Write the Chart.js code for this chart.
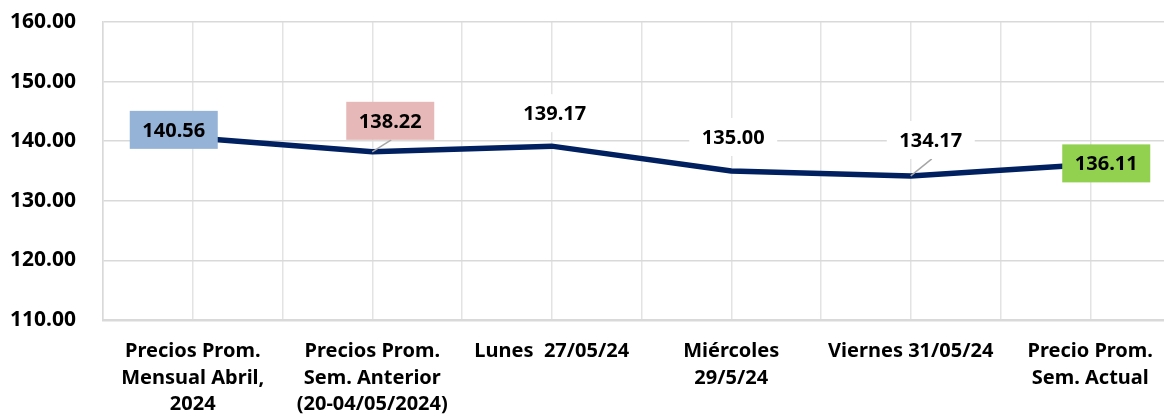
<!DOCTYPE html>
<html>
<head>
<meta charset="utf-8">
<script src="https://cdn.jsdelivr.net/npm/chart.js@4/dist/chart.umd.min.js"></script>
<style>
  html, body { margin: 0; padding: 0; background: #fff; overflow: hidden; }
  #wrap { width: 1164px; height: 420px; overflow: hidden; }
</style>
</head>
<body>
<div id="wrap"><canvas id="precioChart" width="1198" height="420"></canvas></div>
<script>
const categories = [
  ['Precios Prom.', 'Mensual Abril,', '2024'],
  ['Precios Prom.', 'Sem. Anterior', '(20-04/05/2024)'],
  'Lunes  27/05/24',
  ['Miércoles', '29/5/24'],
  'Viernes 31/05/24',
  ['Precio Prom.', 'Sem. Actual']
];
const precios = [140.56, 138.22, 139.17, 135.00, 134.17, 136.11];
const yMin = 110;
const yMax = 160;
const yStep = 10;

// label placement relative to each point (dx, dy), box fill, leader line
const labelStyles = [
  { dx: -19, dy: -8, fill: '#95B3D7', leader: false },
  { dx: 18, dy: -31, fill: '#E6B9B8', leader: true },
  { dx: 3, dy: -33, fill: '#ffffff', leader: false },
  { dx: 2, dy: -34, fill: '#ffffff', leader: false },
  { dx: 20, dy: -36, fill: '#ffffff', leader: true },
  { dx: 16, dy: -1, fill: '#92D050', leader: false }
];

const FONT = '"Noto Sans", Lato, sans-serif';

const dataLabels = {
  id: 'dataLabels',
  afterDatasetsDraw(chart) {
    const ctx = chart.ctx;
    const meta = chart.getDatasetMeta(0);
    const boxW = 88, boxH = 38;
    ctx.save();
    meta.data.forEach((pt, i) => {
      const st = labelStyles[i];
      const cx = pt.x + st.dx;
      const cy = pt.y + st.dy;
      if (st.leader) {
        ctx.strokeStyle = '#a6a6a6';
        ctx.lineWidth = 1.5;
        ctx.beginPath();
        ctx.moveTo(cx + (st.dx > 0 ? 1 : 0), cy + boxH / 2);
        ctx.lineTo(pt.x, pt.y);
        ctx.stroke();
      }
      ctx.fillStyle = st.fill;
      ctx.fillRect(cx - boxW / 2, cy - boxH / 2, boxW, boxH);
      ctx.fillStyle = '#000';
      ctx.font = 'bold 20px ' + FONT;
      ctx.textAlign = 'center';
      ctx.textBaseline = 'middle';
      ctx.fillText(precios[i].toFixed(2), cx, cy + 1);
    });
    ctx.restore();
  }
};

const ctx = document.getElementById('precioChart').getContext('2d');
const chart = new Chart(ctx, {
  type: 'line',
  data: {
    datasets: [{
      label: 'Precio',
      data: precios.map((v, i) => ({ x: i, y: v })),
      borderColor: '#002060',
      borderWidth: 5.5,
      pointRadius: 0,
      tension: 0,
      fill: false
    }]
  },
  options: {
    responsive: false,
    animation: false,
    layout: { padding: { top: 22, left: 10, right: 1, bottom: 0 } },
    scales: {
      x: {
        type: 'linear',
        min: -0.5,
        max: 5.5,
        afterFit(scale) { scale.height = 100; },
        grid: { color: '#e3e3e3', lineWidth: 1.5, drawTicks: false },
        border: { display: true, color: '#d9d9d9', width: 2.5 },
        ticks: {
          stepSize: 0.5,
          autoSkip: false,
          maxRotation: 0,
          padding: 18,
          color: '#000',
          font: { family: FONT, size: 20, weight: 'bold', lineHeight: 1.33 },
          callback: (v) => Number.isInteger(v) ? categories[v] : ''
        }
      },
      y: {
        min: yMin,
        max: yMax,
        afterFit(scale) { scale.width = 93; },
        grid: { color: '#d9d9d9', lineWidth: 1.5, drawTicks: false },
        border: { display: true, color: '#d9d9d9', width: 1.5 },
        ticks: {
          stepSize: yStep,
          padding: 0,
          crossAlign: 'far',
          color: '#000',
          font: { family: FONT, size: 21, weight: 'bold' },
          callback: (v) => v.toFixed(2)
        }
      }
    },
    plugins: {
      legend: { display: false },
      tooltip: { enabled: false }
    }
  },
  plugins: [dataLabels]
});
</script>
</body>
</html>
